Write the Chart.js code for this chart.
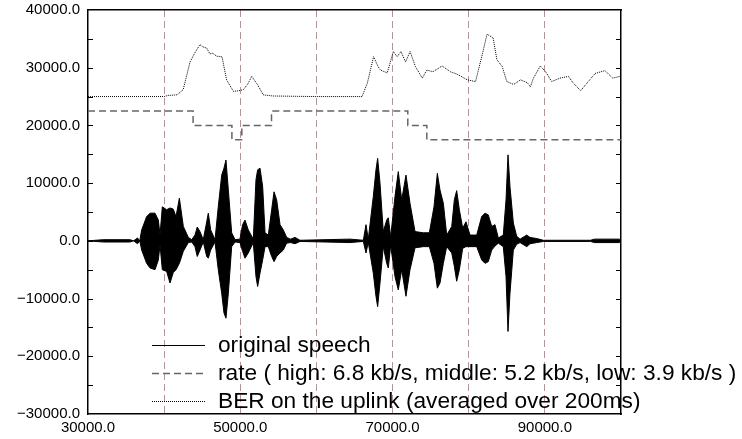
<!DOCTYPE html>
<html>
<head>
<meta charset="utf-8">
<script src="https://cdn.jsdelivr.net/npm/chart.js@4.4.1/dist/chart.umd.min.js"></script>
<style>
  html, body { margin: 0; padding: 0; background: #fff; }
  #wrap { width: 742px; height: 439px; }
</style>
</head>
<body>
<div id="wrap"><canvas id="c"></canvas></div>
<script>
// speech envelope (x, upper, lower), values in thousands
const speechX = [30, 32, 35.5, 36, 36.5, 36.8, 37.05, 37.7, 38.15, 38.8, 39.24, 39.46, 39.76, 40.33, 40.77, 41.2, 41.56, 42, 42.52, 43.18, 43.62, 44.05, 44.35, 44.71, 45.14, 45.59, 45.8, 46.11, 46.68, 47.11, 47.56, 47.86, 48.12, 48.43, 48.87, 49.31, 49.96, 50.3, 50.62, 51.05, 51.71, 52.06, 52.28, 52.59, 52.94, 53.25, 53.68, 54.12, 54.43, 54.78, 55.22, 55.65, 56.09, 56.6, 57.19, 57.84, 61.13, 64.41, 66.16, 66.51, 66.81, 67.47, 67.82, 68.04, 68.35, 68.78, 69.23, 69.44, 69.75, 70.32, 70.75, 71.2, 71.76, 72.29, 72.95, 74.04, 74.83, 75.44, 75.88, 76.23, 76.67, 77.11, 77.77, 78.11, 78.42, 78.77, 79.21, 79.64, 80.17, 81.05, 81.7, 82.14, 82.57, 83.02, 83.45, 83.89, 84.54, 84.9, 85.16, 85.42, 85.86, 86.3, 86.74, 87.62, 88.05, 88.93, 89.8, 96, 96.5, 99.8, 100]
const speechHi = [0, 0.2, 0.2, 0, 0.5, 0, 1.9, 4.2, 4.8, 4.8, 3.6, 1.0, 5.9, 5.4, 5.7, 5.5, 4.2, 7.4, 2.5, 0.6, 0.2, 1.0, 2.4, 1.6, 0.2, 3.3, 4.8, 1.9, 0.2, 5.9, 11.4, 12.6, 14.0, 8.8, 1.4, 0.2, 0.3, 2.8, 3.6, 1.9, 0.3, 10.6, 12.3, 12.6, 9.4, 1.4, 1.0, 5.4, 8.5, 7.1, 2.8, 1.9, 0.6, 0.3, 0.6, 0.1, 0.2, 0.3, 0.1, 2.8, 0.3, 7.7, 12.3, 14.3, 10.0, 1.6, 3.6, 4.0, 0.7, 7.7, 12.0, 7.1, 11.4, 6.5, 1.6, 1.4, 1.4, 5.9, 11.7, 8.8, 6.5, 1.0, 2.5, 7.1, 8.7, 5.4, 2.2, 3.3, 1.0, 1.0, 4.2, 4.8, 4.5, 2.5, 2.8, 0.5, 1.0, 7.1, 14.9, 9.4, 3.1, 0.8, 0.3, 1.0, 0.6, 0.4, 0.1, 0.1, 0.3, 0.3, 0]
const speechLo = [0, -0.2, -0.2, 0, -0.5, 0, -1.6, -3.9, -4.7, -5.0, -3.3, -0.7, -5.0, -5.3, -7.3, -5.5, -5.0, -3.9, -1.8, -0.3, -0.2, -1.0, -2.7, -1.6, -0.2, -2.7, -3.0, -1.6, -0.2, -5.0, -9.1, -12.5, -13.4, -9.1, -1.0, -0.2, -0.3, -1.8, -3.0, -2.1, -0.3, -6.2, -7.9, -5.6, -3.3, -1.0, -1.0, -2.7, -3.6, -2.7, -2.1, -1.6, -0.4, -0.3, -0.5, -0.1, -0.2, -0.3, -0.1, -2.1, -0.3, -5.6, -9.6, -11.4, -7.3, -1.0, -3.9, -4.7, -0.8, -6.2, -8.5, -5.0, -9.6, -5.0, -1.2, -1.0, -1.0, -3.9, -8.2, -7.3, -3.9, -1.0, -2.1, -4.4, -7.0, -5.0, -1.3, -1.0, -1.0, -1.0, -3.3, -3.9, -3.6, -1.6, -0.9, -0.4, -1.0, -6.2, -15.7, -9.1, -1.6, -0.6, -0.3, -1.0, -0.5, -0.3, -0.1, -0.1, -0.3, -0.3, 0]

// rate steps (value held until next x)
const rateX = [30, 43.8, 48.9, 50.2, 54.1, 72.0, 74.5, 100]
const rateY = [22.5, 20.0, 17.5, 20.0, 22.5, 20.0, 17.5, 17.5]

// BER on the uplink
const berX = [30, 38, 40, 40.5, 41.7, 42.5, 43.4, 44.0, 44.7, 45.1, 45.6, 46.0, 46.4, 46.9, 47.6, 48.2, 49.1, 49.8, 50.4, 51.0, 51.5, 52.3, 53.0, 54.3, 60, 66.0, 66.7, 67.5, 68.1, 68.4, 69.3, 70.1, 70.6, 71.1, 71.7, 72.3, 73.0, 73.9, 74.5, 75.3, 76.5, 77.6, 78.6, 79.8, 80.9, 81.8, 82.4, 83.2, 83.7, 84.4, 85.0, 85.9, 86.8, 87.7, 88.1, 88.5, 89.4, 90.1, 90.9, 92.0, 93.1, 93.7, 94.7, 95.7, 96.6, 97.9, 98.9, 99.9]
const berY = [25.0, 25.0, 25.0, 25.2, 25.3, 26.2, 31.0, 32.5, 34.0, 33.6, 33.4, 32.4, 32.5, 32.0, 31.9, 27.9, 25.9, 26.0, 26.2, 27.2, 28.5, 27.0, 25.3, 25.1, 25.0, 25.0, 27.4, 31.9, 30.2, 29.6, 29.1, 32.8, 31.9, 32.8, 31.0, 32.8, 30.2, 28.2, 29.6, 29.3, 30.3, 29.3, 28.8, 27.9, 27.6, 32.4, 35.8, 35.2, 31.4, 30.2, 27.6, 27.1, 27.9, 27.4, 26.7, 28.2, 30.3, 29.3, 27.6, 28.2, 28.5, 27.4, 26.0, 27.6, 29.0, 29.5, 28.2, 28.5]

const xLabels = [30000, 50000, 70000, 90000]
const legendLabels = [
  'original speech',
  'rate ( high: 6.8 kb/s, middle: 5.2 kb/s, low: 3.9 kb/s )',
  'BER on the uplink (averaged over 200ms)',
]

const pts = (xs, ys) => xs.map((x, i) => ({ x: x * 1000, y: ys[i] * 1000 }))
const fmt = (v) => (v < 0 ? '\u2212' : '') + Math.abs(v).toFixed(1)
const FONT = '"Liberation Sans", Arial, Helvetica, sans-serif'

// inward tick marks on the left and right axes, every 5000
const innerTicks = {
  id: 'innerTicks',
  afterDraw(chart) {
    const { ctx, chartArea: a, scales: { y } } = chart
    ctx.save()
    ctx.strokeStyle = '#000'
    ctx.lineWidth = 1
    for (let v = -25000; v <= 35000; v += 5000) {
      const py = Math.round(y.getPixelForValue(v)) + 0.5
      ctx.beginPath()
      ctx.moveTo(a.left, py); ctx.lineTo(a.left + 5, py)
      ctx.moveTo(a.right, py); ctx.lineTo(a.right - 5, py)
      ctx.stroke()
    }
    ctx.restore()
  },
}

// legend placed inside the lower part of the plot
const insideLegend = {
  id: 'insideLegend',
  afterDraw(chart) {
    const { ctx } = chart
    const rows = [345, 373, 401]
    const styles = [
      { color: '#000', dash: [], width: 1 },
      { color: '#666', dash: [7, 4], width: 1.5 },
      { color: '#000', dash: [1, 1], width: 1 },
    ]
    ctx.save()
    ctx.font = '22.7px ' + FONT
    ctx.textBaseline = 'middle'
    ctx.fillStyle = '#000'
    legendLabels.forEach((txt, i) => {
      const s = styles[i]
      ctx.strokeStyle = s.color
      ctx.lineWidth = s.width
      ctx.setLineDash(s.dash)
      ctx.beginPath()
      ctx.moveTo(152, rows[i] + 0.5)
      ctx.lineTo(205, rows[i] + 0.5)
      ctx.stroke()
      ctx.fillText(txt, 218, rows[i] + 1)
    })
    ctx.restore()
  },
}

new Chart(document.getElementById('c'), {
  type: 'line',
  data: {
    datasets: [
      {
        data: pts(speechX, speechHi),
        borderColor: '#000',
        borderWidth: 1,
        pointRadius: 0,
        fill: false,
      },
      {
        data: pts(speechX, speechLo),
        borderColor: '#000',
        backgroundColor: '#000',
        borderWidth: 1,
        pointRadius: 0,
        fill: '-1',
      },
      {
        data: pts(rateX, rateY),
        borderColor: '#666',
        borderWidth: 1.5,
        borderDash: [7, 4],
        stepped: 'before',
        pointRadius: 0,
        fill: false,
      },
      {
        data: pts(berX, berY),
        borderColor: '#000',
        borderWidth: 1,
        borderDash: [1, 1],
        pointRadius: 0,
        fill: false,
      },
    ],
  },
  options: {
    responsive: true,
    maintainAspectRatio: false,
    animation: false,
    layout: { padding: { left: 0, right: 121, top: 10, bottom: 0 } },
    plugins: { legend: { display: false }, tooltip: { enabled: false } },
    scales: {
      x: {
        type: 'linear',
        min: 30000,
        max: 100000,
        afterFit: (s) => { s.height = 25 },
        afterBuildTicks: (s) => { s.ticks = [30000, 40000, 50000, 60000, 70000, 80000, 90000, 100000].map((v) => ({ value: v })) },
        ticks: {
          autoSkip: false,
          maxRotation: 0,
          padding: 5,
          color: '#000',
          font: { family: FONT, size: 15 },
          callback: (v) => (xLabels.includes(v) ? fmt(v) : ''),
        },
        grid: {
          drawTicks: false,
          color: (c) => (c.tick && (c.tick.value === 30000 || c.tick.value === 100000) ? 'rgba(0,0,0,0)' : 'rgb(200,140,140)'),
          lineWidth: 1,
        },
        border: { display: true, color: '#000', width: 1.5, dash: [7, 4] },
      },
      y: {
        min: -30000,
        max: 40000,
        afterFit: (s) => { s.width = 88; s.paddingTop = 0; s.paddingBottom = 0 },
        ticks: {
          stepSize: 10000,
          padding: 8,
          color: '#000',
          font: { family: FONT, size: 15 },
          callback: (v) => fmt(v),
        },
        grid: { display: false, drawTicks: false },
        border: { display: true, color: '#000', width: 1.5 },
      },
      y2: {
        position: 'right',
        min: -30000,
        max: 40000,
        ticks: { display: false },
        grid: { display: false, drawTicks: false },
        border: { display: true, color: '#000', width: 1.5 },
        afterFit: (s) => { s.width = 0 },
      },
      x2: {
        type: 'linear',
        position: 'top',
        min: 30000,
        max: 100000,
        ticks: { display: false },
        grid: { display: false, drawTicks: false },
        border: { display: true, color: '#000', width: 1.5 },
        afterFit: (s) => { s.height = 0 },
      },
    },
  },
  plugins: [innerTicks, insideLegend],
})
</script>
</body>
</html>
